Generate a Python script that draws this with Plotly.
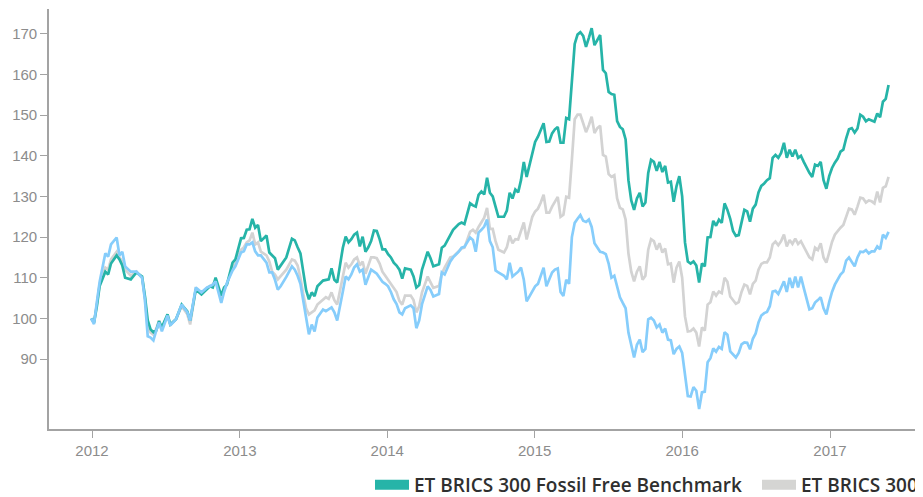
import pandas as pd
import plotly.graph_objects as go

# ---- data (weekly observations, week index from 2011-12-30) ----
start_date = "2011-12-30"
weeks = [0, 1, 2, 3, 5, 6, 7, 9, 10, 11, 12, 14, 16, 18, 19, 20, 21, 22, 23, 24, 25, 26, 27, 28, 30,
         32, 34, 35, 37, 39, 41, 42, 43, 44, 46, 47, 48, 50, 51, 53, 54, 55, 56, 57, 58, 59, 60, 62,
         63, 64, 65, 66, 67, 69, 71, 72, 73, 74, 75, 76, 77, 78, 79, 80, 82, 83, 84, 85, 86, 87, 89,
         90, 91, 92, 93, 94, 95, 96, 97, 98, 99, 100, 101, 102, 103, 104, 105, 106, 107, 108, 109,
         110, 111, 113, 114, 115, 116, 117, 119, 120, 121, 123, 124, 125, 127, 128, 130, 131, 132,
         134, 135, 136, 137, 138, 139, 140, 141, 142, 143, 144, 146, 147, 148, 149, 150, 151, 152,
         153, 154, 155, 156, 157, 158, 159, 160, 161, 162, 163, 164, 165, 166, 167, 168, 169, 170,
         171, 172, 173, 174, 175, 176, 177, 178, 179, 180, 181, 182, 183, 184, 185, 186, 187, 188,
         189, 190, 191, 192, 193, 194, 195, 196, 197, 198, 199, 200, 201, 202, 203, 204, 205, 206,
         207, 208, 209, 210, 211, 212, 213, 214, 215, 216, 217, 218, 219, 220, 221, 222, 223, 224,
         225, 226, 227, 228, 229, 230, 231, 232, 233, 234, 235, 236, 237, 238, 239, 240, 241, 242,
         243, 244, 245, 246, 247, 248, 249, 250, 251, 252, 253, 254, 255, 256, 257, 258, 259, 260,
         261, 262, 263, 264, 265, 266, 267, 268, 269, 270, 271, 272, 273, 274, 275, 276, 277, 278,
         279, 280, 281, 282]

fossil_free = [100, 99, 103, 108, 111.5, 110.8, 113.5, 115.5, 114.5, 113, 110, 109.6, 111.3, 110.3,
               105.5, 99.5, 97.3, 96.6, 97, 99.3, 97.8, 99.5, 101, 98.5, 99.8, 103.4, 101.7, 99.5,
               107.1, 105.9, 107.1, 107.9, 107.6, 110, 105.6, 107.6, 108.3, 113.7, 114.5, 119.7,
               119.8, 121.8, 121.9, 124.5, 122.3, 123, 119, 120.4, 116.2, 115.5, 114.8, 112, 113,
               115, 119.6, 119.2, 117.5, 116, 111.5, 107, 104.7, 106.4, 105.5, 107.9, 109.3, 109.5,
               109.6, 112.3, 109.5, 108.8, 117.4, 120.1, 118.7, 119.5, 120.6, 121.1, 117.7, 120.1,
               116.4, 117.5, 119, 121.6, 121.5, 119.5, 117, 117, 115.8, 115, 113.7, 113, 112, 109.8,
               112.3, 112, 110.3, 107.6, 108.2, 112, 116.4, 114.8, 112.8, 113.3, 117.4, 117.9,
               120.5, 121.8, 123.2, 123.6, 123.2, 128.3, 127.8, 127.5, 130.4, 131.2, 130.5, 134.6,
               130.9, 130, 127.5, 125, 125, 126.5, 130.9, 129.5, 131.7, 131, 134, 138.5, 134.8,
               137.5, 140.5, 143.4, 144.7, 146.5, 148, 143.4, 143.5, 145.5, 146.5, 147.1, 143.2,
               143.2, 149.3, 149, 158.6, 167.5, 169.8, 170.4, 169.5, 166.8, 169, 171.4, 167.2, 168.5,
               169.7, 161.1, 160.3, 155.7, 155.2, 155, 148.5, 147.1, 146.5, 144, 134, 129, 126.7,
               129.5, 130.9, 127.5, 128.5, 135.8, 139, 138.5, 136.3, 138.5, 136, 137.5, 133.4, 133.6,
               128.7, 132.5, 135, 130, 118.7, 114, 113.5, 114, 113, 108.8, 113.5, 112.8, 119.9, 120,
               124, 122.8, 124.3, 123.5, 128.3, 126.7, 124.5, 121.5, 120.3, 120.5, 123.5, 126.7,
               126.3, 123.8, 127, 128, 131, 132.6, 133.2, 134, 134.5, 139.5, 140.2, 139.5, 140.7,
               143.2, 139.5, 141.5, 139.8, 141.5, 139.5, 140, 138.5, 137, 135.8, 134.8, 137.8, 137.5,
               138.5, 134, 131.9, 135, 137, 138.3, 139.3, 141, 141.5, 144.3, 146.5, 146.8, 145.7,
               146.7, 150.1, 149.6, 148.5, 149, 148.6, 148.4, 150.4, 149.5, 153.3, 154, 157.4]

brics300 = [100, 99, 103.5, 108.5, 112.5, 112, 114.5, 116.4, 115, 114, 112, 110.5, 111.5, 110, 105,
            97.5, 96.5, 96, 97.5, 99.5, 97.3, 99.3, 100.5, 98.5, 99.8, 103, 101, 98.5, 107.3, 106.2,
            107.5, 108, 108.3, 109.5, 104.8, 107, 108.5, 112.5, 113.5, 116.9, 117.5, 118.7, 119.2,
            121.1, 118.2, 118.7, 116.4, 115.5, 114, 111.5, 110.8, 109.6, 110.5, 112, 114.5, 114.2,
            113, 110, 106, 102.5, 101, 101.5, 102, 103.4, 104.5, 105.2, 104.8, 106.4, 104.5, 103.4,
            110.3, 113.7, 112.5, 113.3, 114.5, 115, 113, 114, 111, 113, 115, 115, 114.8, 113.5,
            111.5, 110.5, 109.5, 108.5, 107.5, 106.5, 104.3, 103.4, 105.6, 105.6, 104.5, 101.5, 103,
            106.4, 110.3, 109, 107.5, 108, 111, 112.5, 115, 115.2, 116.4, 117.2, 117.4, 121.3,
            121.8, 121.1, 122.5, 123.6, 124.8, 127.2, 122, 122, 119, 116.9, 116.2, 117.5, 120.4,
            118.5, 119.5, 119.4, 121.5, 123.6, 119.4, 122.5, 125, 126.3, 127, 128.5, 130.4, 126,
            126, 127.5, 128.7, 129.9, 125, 125.5, 129.9, 129.7, 139, 149, 150.1, 150.1, 148, 145.8,
            147.5, 149.6, 145.6, 146.8, 147.4, 140.2, 139.8, 135.5, 134.8, 135.2, 129.5, 127.2,
            126.8, 124.3, 116, 111.5, 109.1, 111.5, 112.8, 109.5, 110.5, 116.9, 119.5, 119, 116.9,
            118.5, 116.2, 117.2, 113.3, 113.5, 108.8, 112.5, 114, 110, 100.5, 96.8, 96.9, 97.5, 96.5,
            93.1, 97.8, 97, 103.4, 104, 106.6, 105.6, 106.6, 106.2, 110, 109, 105.4, 104.5, 103.6,
            104, 106.5, 108.3, 108, 105.9, 108.5, 109.3, 112, 113.4, 113.8, 113.8, 115, 118.2, 118.9,
            118, 119, 120.6, 117.7, 119.3, 118.3, 119.6, 118.3, 119, 117.6, 116.2, 115, 114.5, 117.4,
            116.8, 118.5, 115, 113.7, 116.2, 118.8, 120.6, 121.5, 122.3, 123, 125.2, 127, 126.8,
            125.5, 127.5, 129.7, 129.5, 128.5, 129, 128.8, 128.3, 131.2, 128.5, 132.1, 132.5, 134.8]

msci_brics = [100, 98.6, 104, 109, 116, 115.2, 118.2, 119.9, 115.5, 116.4, 112.8, 111.5, 111.5, 110,
              104.5, 95.6, 95.3, 94.6, 97, 99, 96.8, 99, 100.7, 98.3, 99.8, 103.4, 101.5, 99.5,
              107.6, 106.4, 107.6, 107.9, 108.3, 109.1, 103.8, 106.5, 108.7, 111.8, 112.8, 116.2,
              116.5, 118.2, 118.2, 118.7, 116.5, 115.5, 115.5, 113.7, 111.3, 111.3, 109.5, 107.1,
              107.9, 110.2, 112.8, 112, 110.5, 108.5, 104.5, 101, 96.1, 98.5, 96.8, 100.2, 102.2,
              101.8, 102.2, 102.7, 101.5, 99.5, 106.6, 110.3, 109.6, 110.8, 112.5, 113.3, 111.5, 112,
              108.3, 110, 112, 111.5, 111, 110, 109, 108.5, 107.9, 106.5, 104.7, 103.5, 101.5, 101,
              102.5, 103.2, 102.5, 97.6, 99.5, 103.5, 107.9, 107, 105.4, 106, 111.3, 110.8, 114, 115,
              116.4, 117.4, 117.6, 119.9, 119.3, 116.4, 121.1, 121.8, 122.6, 124.3, 119, 117.5,
              111.8, 111.3, 110.5, 109.6, 113.7, 110.3, 111, 111.5, 112.5, 109.5, 104.2, 105.5,
              106.5, 107.9, 108.5, 110.5, 112.5, 107.9, 109.5, 111.3, 112, 112.3, 106.5, 105.5,
              109.5, 108.5, 120, 123.5, 124.5, 125.4, 124, 123.7, 124.3, 122.5, 118.5, 117.4, 116.4,
              116.2, 115.8, 113.5, 110, 110.5, 107.5, 105.2, 103.8, 102.5, 96.5, 93.5, 90.4, 93.5,
              94.8, 91.7, 92.5, 99.8, 100.2, 99.5, 97.8, 98.5, 96.5, 97.5, 94.8, 94.6, 91.2, 92.5,
              93.1, 91.5, 85.5, 80.9, 80.8, 83.1, 82.2, 77.7, 81.8, 82, 89.2, 90.2, 92.6, 91.8, 93,
              92.5, 96.6, 96, 91.9, 91.2, 90.4, 91.5, 93.6, 94.1, 94, 92.4, 95, 96.3, 99, 100.7,
              101.3, 101.6, 103, 106.6, 106.8, 106, 107.6, 109.1, 106.5, 110, 107.5, 110.3, 107.6,
              110.3, 107.5, 104.5, 102.2, 102.5, 103.9, 104.5, 105.2, 102.5, 101, 104, 106.5, 108.3,
              109.5, 110.8, 111.5, 114.2, 115, 114, 112.8, 115, 116.4, 116.3, 116.8, 116, 116.5,
              116.5, 117.7, 117, 120.6, 119.8, 121.3]

names = ["ET BRICS 300 Fossil Free Benchmark", "ET BRICS 300", "MSCI BRICS"]
colors = ["#26b4a8", "#d3d3d3", "#86cdfb"]
legend_colors = ["#26b4a8", "#d5d5d3", "#86cdfb"]

dates = pd.Timestamp(start_date) + pd.to_timedelta([w * 7 for w in weeks], unit="D")
series = [fossil_free, brics300, msci_brics]

# ---- layout geometry (page has an 8px body margin) ----
PAGE_OFF = 8
W, H = 923 - PAGE_OFF, 497 - PAGE_OFF
left_px = 49 - PAGE_OFF            # y-axis line position inside the figure
top_px = 9 - PAGE_OFF
bottom_px = 429 - PAGE_OFF
px_per_day = 738 / 1827.0
x_start = pd.Timestamp("2012-01-01") - pd.Timedelta(days=(92 - 49) / px_per_day)
x_end = x_start + pd.Timedelta(days=(W - left_px) / px_per_day)

fig = go.Figure()

# drawing order: grey below, teal, blue on top
for i in [1, 0, 2]:
    fig.add_trace(go.Scatter(x=dates, y=series[i], mode="lines", name=names[i],
                             line=dict(color=colors[i], width=2.7), showlegend=False,
                             hoverinfo="x+y+name"))

# legend entries (rectangular swatches), one legend box per visible entry
legend_ids = ["legend", "legend2"]
for i in range(2):
    fig.add_trace(go.Scatter(x=[None], y=[None], mode="lines", name=names[i],
                             line=dict(color=legend_colors[i], width=12),
                             showlegend=True, legend=legend_ids[i]))

axis_col = "#a3a3a3"
tick_font = dict(family="Liberation Sans, Arial, sans-serif", size=15, color="#8c8c8c")
leg_font = dict(family="Open Sans, Noto Sans, sans-serif", size=19, color="#2f2f2f", weight=600)
leg_y = (H - (485 - PAGE_OFF)) / H

fig.update_layout(
    width=W, height=H,
    margin=dict(l=left_px, r=0, t=top_px, b=H - bottom_px),
    plot_bgcolor="white", paper_bgcolor="white",
    xaxis=dict(type="date", range=[x_start, x_end], showgrid=False, zeroline=False,
               showline=True, linecolor=axis_col, linewidth=1.6,
               ticks="outside", ticklen=7, tickcolor=axis_col, tickwidth=1,
               dtick="M12", tick0="2012-01-01", tickformat="%Y", tickfont=tick_font),
    yaxis=dict(range=[72.8, 176.1], showgrid=False, zeroline=False,
               showline=True, linecolor=axis_col, linewidth=1.6,
               ticks="outside", ticklen=7, tickcolor=axis_col, tickwidth=1,
               tickvals=[90, 100, 110, 120, 130, 140, 150, 160, 170], tickfont=tick_font),
    legend=dict(orientation="h", xref="container", yref="container",
                x=(370 - PAGE_OFF) / W, xanchor="left", y=leg_y, yanchor="middle",
                font=leg_font, itemwidth=34, bgcolor="rgba(0,0,0,0)"),
    legend2=dict(orientation="h", xref="container", yref="container",
                 x=1.0, xanchor="right", y=leg_y, yanchor="middle",
                 font=leg_font, itemwidth=34, bgcolor="rgba(0,0,0,0)"),
    showlegend=True,
)

fig.write_html("out.html")
